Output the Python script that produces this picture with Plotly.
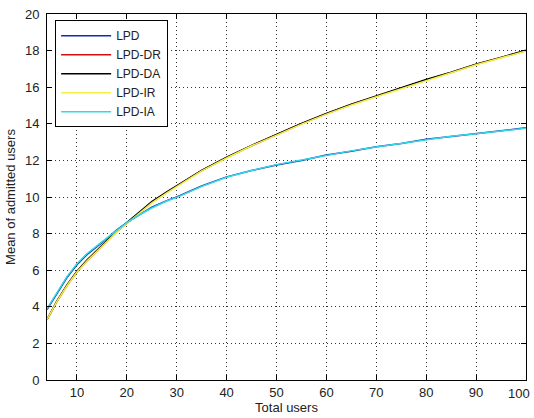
import plotly.graph_objects as go

total_users = [4, 5, 6, 8, 10, 12, 15, 18, 20, 22, 25, 28, 30, 35, 40, 45, 50, 55, 60, 65, 70, 75, 80, 85, 90, 95, 100]

lpd    = [3.85, 4.3, 4.75, 5.6, 6.3, 6.85, 7.5, 8.2, 8.6, 8.95, 9.45, 9.8, 10.0, 10.6, 11.1, 11.45, 11.75, 12.0, 12.3, 12.5, 12.75, 12.92, 13.15, 13.3, 13.48, 13.62, 13.78]
lpd_ia = [3.9, 4.35, 4.8, 5.65, 6.35, 6.9, 7.55, 8.2, 8.6, 8.95, 9.4, 9.78, 9.98, 10.58, 11.08, 11.45, 11.77, 12.02, 12.28, 12.52, 12.73, 12.94, 13.13, 13.32, 13.46, 13.63, 13.76]
lpd_dr = [3.3, 3.8, 4.3, 5.15, 5.9, 6.5, 7.3, 8.1, 8.55, 9.0, 9.7, 10.25, 10.6, 11.45, 12.15, 12.8, 13.4, 14.0, 14.55, 15.05, 15.5, 15.95, 16.4, 16.8, 17.25, 17.62, 18.0]
lpd_da = [3.3, 3.82, 4.32, 5.2, 5.95, 6.55, 7.35, 8.15, 8.6, 9.05, 9.75, 10.28, 10.62, 11.45, 12.17, 12.82, 13.42, 14.02, 14.57, 15.07, 15.52, 15.97, 16.42, 16.82, 17.26, 17.63, 18.02]
lpd_ir = [3.3, 3.8, 4.3, 5.15, 5.9, 6.5, 7.3, 8.1, 8.55, 9.0, 9.68, 10.22, 10.58, 11.43, 12.13, 12.8, 13.38, 13.98, 14.53, 15.03, 15.48, 15.93, 16.38, 16.79, 17.23, 17.6, 17.98]

x_ticks = [10, 20, 30, 40, 50, 60, 70, 80, 90, 100]
x_tick_labels = ["10", "20", "30", "40", "50", "60", "70", "80", "90", "100"]

series = [
    ("LPD", lpd, "#1a2aa8"),
    ("LPD-DR", lpd_dr, "#d01010"),
    ("LPD-DA", lpd_da, "#000000"),
    ("LPD-IR", lpd_ir, "#f2f040"),
    ("LPD-IA", lpd_ia, "#30d8e8"),
]

FONT = "Liberation Sans, Arial, Helvetica"
TXT = "#222222"

fig = go.Figure()
for name, vals, col in series:
    fig.add_trace(go.Scatter(x=total_users, y=vals, mode="lines", name=name,
                             line=dict(color=col, width=1.5)))

axis_common = dict(
    showline=True, linecolor="black", linewidth=1, mirror="ticks",
    ticks="inside", ticklen=5, tickcolor="black", automargin=False,
    showgrid=True, gridcolor="#333333", griddash="1px,3px", gridwidth=1,
    zeroline=False, tickfont=dict(family=FONT, size=13, color=TXT),
)

# last label is placed as an annotation nudged left so it stays inside the page
shown_labels = x_tick_labels[:-1] + [""]
fig.update_xaxes(range=[4, 100], tickvals=x_ticks, ticktext=shown_labels,
                 title=dict(text="Total users", standoff=4,
                            font=dict(family=FONT, size=13, color=TXT)),
                 **axis_common)
fig.update_yaxes(range=[0, 20], dtick=2, ticklabelstandoff=4,
                 title=dict(text="Mean of admitted users", standoff=6,
                            font=dict(family=FONT, size=13, color=TXT)),
                 **axis_common)

fig.add_annotation(x=x_ticks[-1], xref="x", y=0, yref="paper",
                   text=x_tick_labels[-1], showarrow=False,
                   xanchor="right", yanchor="middle", xshift=6, yshift=-13,
                   font=dict(family=FONT, size=13, color=TXT))

fig.update_layout(
    width=534, height=418,
    margin=dict(l=47, r=8, t=14, b=38, autoexpand=False),
    paper_bgcolor="white", plot_bgcolor="white",
    font=dict(family=FONT, size=13, color=TXT),
    legend=dict(x=0.017, y=0.983, xanchor="left", yanchor="top",
                bordercolor="black", borderwidth=1, bgcolor="white",
                font=dict(size=12, color=TXT), tracegroupgap=0, itemwidth=50),
    showlegend=True,
)

fig.write_html("out.html")
